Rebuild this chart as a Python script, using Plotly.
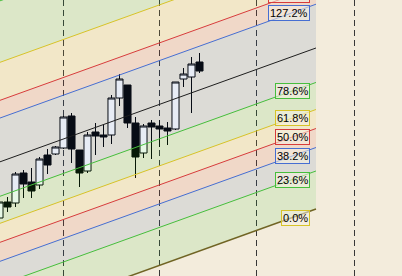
import plotly.graph_objects as go

# ---- candles (index, open, high, low, close) ----
candle_idx = list(range(26))
opens  = [105.8, 107.4, 107.3, 110.3, 109.4, 109.1, 112.1, 112.2, 112.8, 116.0, 112.6, 110.5, 114.4,
          114.1, 114.1, 117.8, 119.1, 115.3, 112.3, 115.3, 115.0, 114.8, 114.7, 119.7, 119.9, 121.4]
highs  = [107.8, 107.9, 110.4, 110.6, 110.8, 111.9, 112.7, 113.0, 116.0, 116.3, 112.6, 114.4, 115.3,
          115.1, 118.1, 120.2, 119.1, 115.9, 115.2, 115.6, 115.6, 115.4, 119.4, 120.8, 121.9, 122.3]
lows   = [105.4, 106.4, 106.9, 107.8, 107.8, 108.7, 110.2, 112.1, 112.7, 111.3, 108.9, 110.3, 112.1,
          112.9, 113.2, 117.0, 114.8, 109.8, 111.8, 111.7, 112.9, 113.1, 114.6, 118.9, 116.3, 120.3]
closes = [107.4, 106.9, 110.2, 109.2, 108.5, 111.7, 111.1, 112.9, 115.9, 112.7, 110.3, 114.1, 114.0,
          113.9, 117.8, 119.7, 115.3, 111.9, 115.0, 114.9, 114.7, 114.5, 119.4, 120.2, 121.2, 120.5]

# ---- fibonacci channel ----
anchor_x = [0.0, 39.56]          # start / end of the channel (bar index)
base_price = [95.3, 106.7]       # 0% trend line at those bars
channel_height = 16.1            # price distance of the 100% line
levels = [0.0, 23.6, 38.2, 50.0, 61.8, 78.6, 100.0, 127.2, 138.2, 161.8, 200.0]
level_labels = ["0.0%", "23.6%", "38.2%", "50.0%", "61.8%", "78.6%", "", "127.2%", "138.2%", "161.8%", "200.0%"]
level_colors = ["rgb(112,100,36)", "rgb(70,190,60)", "rgb(70,110,210)", "rgb(215,60,60)",
                "rgb(215,195,40)", "rgb(70,190,60)", "rgb(30,30,30)", "rgb(70,110,210)",
                "rgb(215,60,60)", "rgb(215,195,40)", "rgb(70,190,60)"]
label_borders = ["rgb(215,195,40)"] + level_colors[1:]
band_fills = ["rgba(60,200,55,0.12)", "rgba(55,100,170,0.12)", "rgba(218,70,55,0.12)",
              "rgba(235,200,55,0.12)", "rgba(60,200,55,0.12)", "rgba(55,100,170,0.12)",
              "rgba(55,100,170,0.12)", "rgba(218,70,55,0.12)", "rgba(235,200,55,0.12)",
              "rgba(60,200,55,0.12)"]

# dashed time separators
time_marks = [7.98, 19.98, 32.14, 44.35]

BG = "rgb(243,236,220)"
X_RANGE = [0.0625, 50.3125]
Y_RANGE = [100.0, 127.6]
PX_PER_UNIT = 276 / (Y_RANGE[1] - Y_RANGE[0])


def level_price(level, x):
    slope = (base_price[1] - base_price[0]) / (anchor_x[1] - anchor_x[0])
    return base_price[0] + slope * (x - anchor_x[0]) + channel_height * level / 100.0


fig = go.Figure()

fig.add_trace(go.Candlestick(
    x=candle_idx, open=opens, high=highs, low=lows, close=closes,
    increasing=dict(fillcolor="white", line=dict(color="black", width=1)),
    decreasing=dict(fillcolor="black", line=dict(color="black", width=1)),
    whiskerwidth=0, showlegend=False, hoverinfo="skip",
))

x0, x1 = anchor_x[0] - 2, anchor_x[1]

# translucent bands between consecutive levels (drawn over the candles)
for i in range(len(levels) - 1):
    lo, hi = levels[i], levels[i + 1]
    fig.add_trace(go.Scatter(
        x=[x0, x1, x1, x0, x0],
        y=[level_price(lo, x0), level_price(lo, x1), level_price(hi, x1), level_price(hi, x0), level_price(lo, x0)],
        fill="toself", fillcolor=band_fills[i], mode="none",
        showlegend=False, hoverinfo="skip",
    ))

# level lines
for lv, col in zip(levels, level_colors):
    width = 1.5 if lv == 0.0 else 1
    fig.add_trace(go.Scatter(
        x=[x0, x1], y=[level_price(lv, x0), level_price(lv, x1)],
        mode="lines", line=dict(color=col, width=width),
        showlegend=False, hoverinfo="skip",
    ))

# level labels, right-aligned near the end of the channel
label_right = anchor_x[1] - 0.78
label_mid = anchor_x[1] - 3.0
for lv, txt, col in zip(levels, level_labels, label_borders):
    if not txt:
        continue
    fig.add_annotation(
        x=label_right, y=level_price(lv, label_mid) - 1.0, yshift=1.0 * PX_PER_UNIT,
        xref="x", yref="y", xanchor="right", yanchor="middle",
        text=txt, showarrow=False,
        font=dict(family="Liberation Sans, Arial", size=11, color="black"),
        bordercolor=col, borderwidth=1, borderpad=1,
        bgcolor="rgba(246,240,226,0.55)",
    )

fig.update_layout(
    width=402, height=276,
    margin=dict(l=0, r=0, t=0, b=0),
    paper_bgcolor=BG, plot_bgcolor=BG,
    boxgap=0.12, boxgroupgap=0,
    showlegend=False,
    xaxis=dict(range=X_RANGE, rangeslider=dict(visible=False), showticklabels=False,
               ticks="", tickvals=time_marks, showgrid=True, gridcolor="rgb(55,55,55)",
               gridwidth=1, griddash="6px,4px", zeroline=False, showline=False, fixedrange=True),
    yaxis=dict(range=Y_RANGE, showticklabels=False, ticks="", showgrid=False,
               zeroline=False, showline=False, fixedrange=True),
)

fig.write_html("out.html")
